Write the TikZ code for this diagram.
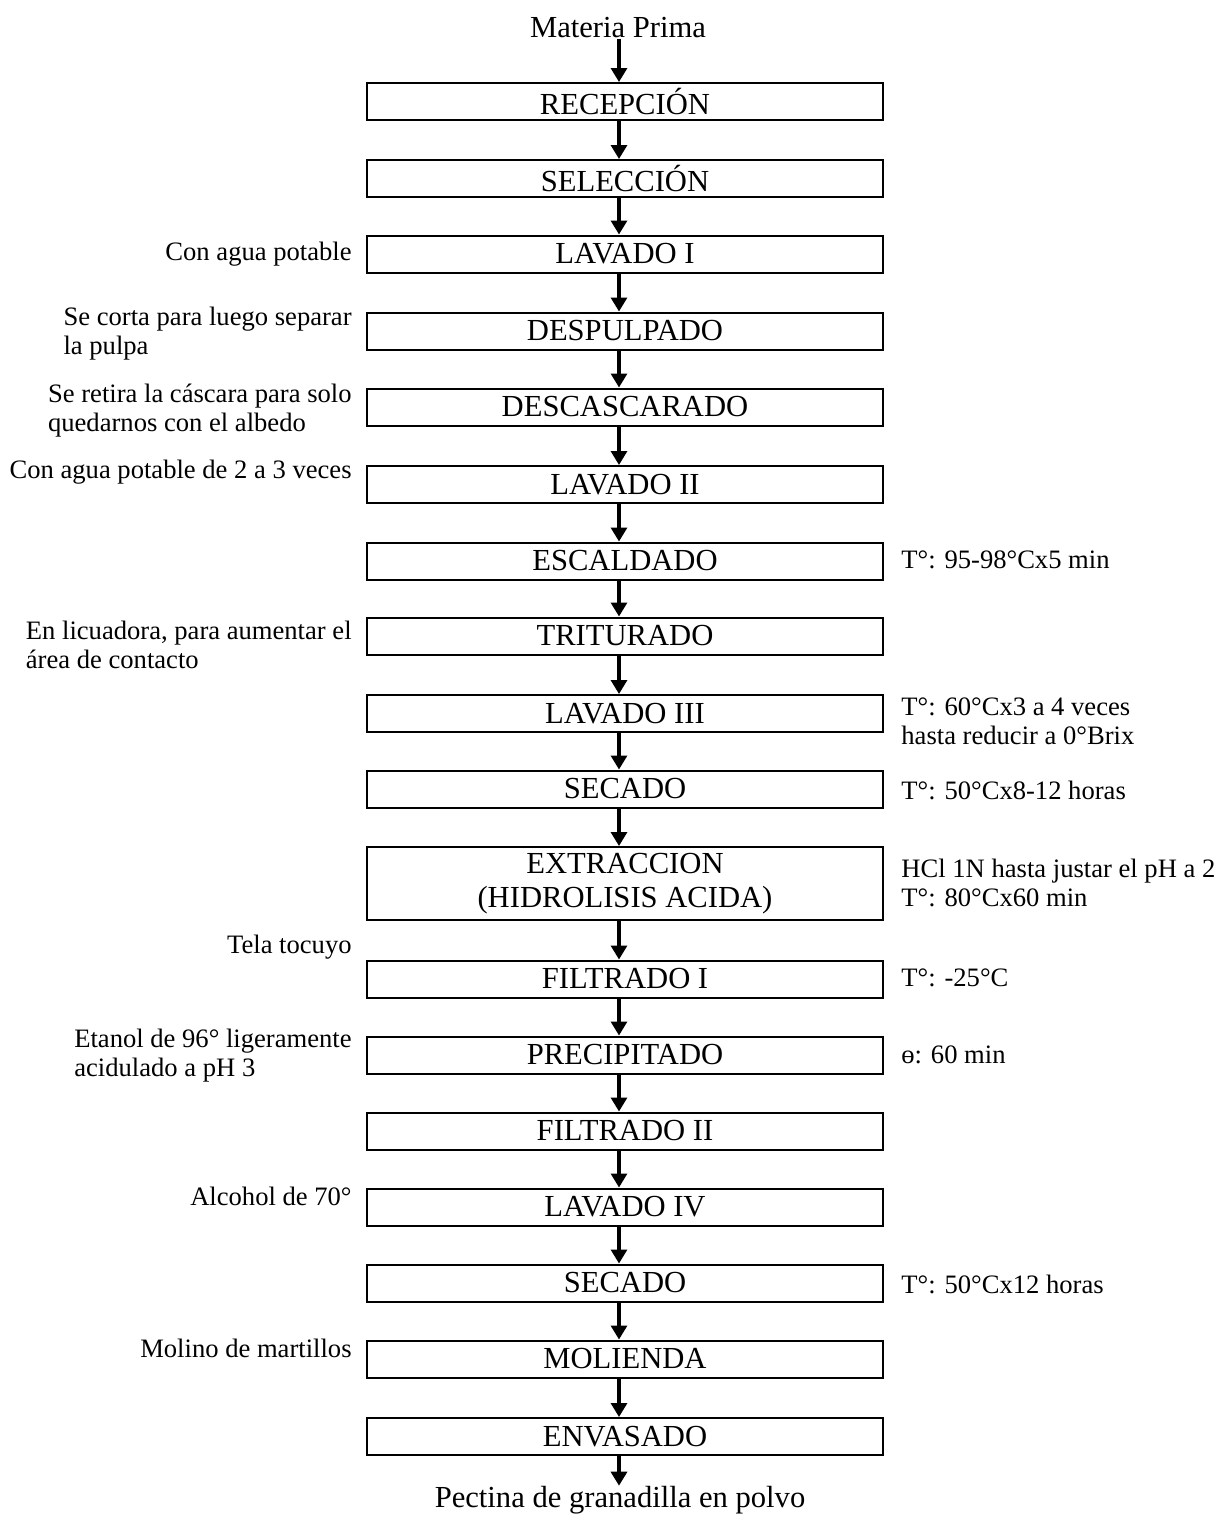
\documentclass[tikz,border=0pt]{standalone}
\usepackage{fontspec}
\setmainfont{Liberation Serif}
\usetikzlibrary{arrows.meta, positioning}

\begin{document}
\begin{tikzpicture}[
    x=0.5pt, y=-0.5pt,
    stepbox/.style={draw, line width=1pt, minimum width=258pt, minimum height=18.5pt, inner sep=0, align=center, font=\fontsize{15.3}{17}\selectfont},
    note/.style={inner sep=0, align=left, font=\fontsize{13.3}{14.5}\selectfont},
    endtext/.style={inner sep=0, font=\fontsize{15.3}{16}\selectfont},
    flow/.style={-{Triangle[width=8pt,length=7pt]}, line width=1.6pt}
]
  \useasboundingbox (0,0) rectangle (1219,1526);
  \coordinate (axis) at (619,0);

  % Start / end
  \node[endtext] (mp) at (618,28) {Materia Prima};
  \node[endtext] (pect) at (620,1500) {Pectina de granadilla en polvo};

  % Process steps
  \node[stepbox] (rec)  at (625,101.5) {RECEPCIÓN};
  \node[stepbox] (sel)  at (625,178.5) {SELECCIÓN};
  \node[stepbox] (lav1) at (625,254) {LAVADO I};
  \node[stepbox] (desp) at (625,331) {DESPULPADO};
  \node[stepbox] (desc) at (625,407) {DESCASCARADO};
  \node[stepbox] (lav2) at (625,484.5) {LAVADO II};
  \node[stepbox] (esc)  at (625,561) {ESCALDADO};
  \node[stepbox] (trit) at (625,636) {TRITURADO};
  \node[stepbox] (lav3) at (625,713.5) {LAVADO III};
  \node[stepbox] (sec1) at (625,789) {SECADO};
  \node[stepbox, minimum height=36.5pt] (ext) at (625,883.5) {EXTRACCION\\(HIDROLISIS ACIDA)};
  \node[stepbox] (fil1) at (625,979) {FILTRADO I};
  \node[stepbox] (prec) at (625,1055) {PRECIPITADO};
  \node[stepbox] (fil2) at (625,1131) {FILTRADO II};
  \node[stepbox] (lav4) at (625,1207) {LAVADO IV};
  \node[stepbox] (sec2) at (625,1283) {SECADO};
  \node[stepbox] (mol)  at (625,1359) {MOLIENDA};
  \node[stepbox] (env)  at (625,1436.5) {ENVASADO};

  % Notes on the left
  \node[note, anchor=east] (n1) at (352,254) {Con agua potable};
  \node[note, anchor=east] (n2) at (352,333.5) {Se corta para luego separar\\la pulpa};
  \node[note, anchor=east] (n3) at (352,410.5) {Se retira la cáscara para solo\\quedarnos con el albedo};
  \node[note, anchor=east] (n4) at (352,472) {Con agua potable de 2 a 3 veces};
  \node[note, anchor=east] (n5) at (352,645) {En licuadora, para aumentar el\\área de contacto};
  \node[note, anchor=east] (n6) at (352,947) {Tela tocuyo};
  \node[note, anchor=east] (n7) at (352,1056) {Etanol de 96° ligeramente\\acidulado a pH 3};
  \node[note, anchor=east] (n8) at (352,1196) {Alcohol de 70°};
  \node[note, anchor=east] (n9) at (352,1348) {Molino de martillos};

  % Notes on the right
  \node[note, anchor=west] (c1) at (901,560) {T°: 95-98°Cx5 min};
  \node[note, anchor=west] (c2) at (901,721.5) {T°: 60°Cx3 a 4 veces\\hasta reducir a 0°Brix};
  \node[note, anchor=west] (c3) at (901,790) {T°: 50°Cx8-12 horas};
  \node[note, anchor=west] (c4) at (901,883) {HCl 1N hasta justar el pH a 2\\T°: 80°Cx60 min};
  \node[note, anchor=west] (c5) at (901,978) {T°: -25°C};
  \node[note, anchor=west] (c6) at (901,1055) {ɵ: 60 min};
  \node[note, anchor=west] (c7) at (901,1284) {T°: 50°Cx12 horas};

  % Flow
  \foreach \a/\b in {mp/rec, rec/sel, sel/lav1, lav1/desp, desp/desc, desc/lav2, lav2/esc,
                     esc/trit, trit/lav3, lav3/sec1, sec1/ext, ext/fil1, fil1/prec, prec/fil2,
                     fil2/lav4, lav4/sec2, sec2/mol, mol/env, env/pect}{
    \draw[flow] (\a.south -| axis) -- (\b.north -| axis);
  }
\end{tikzpicture}
\end{document}
